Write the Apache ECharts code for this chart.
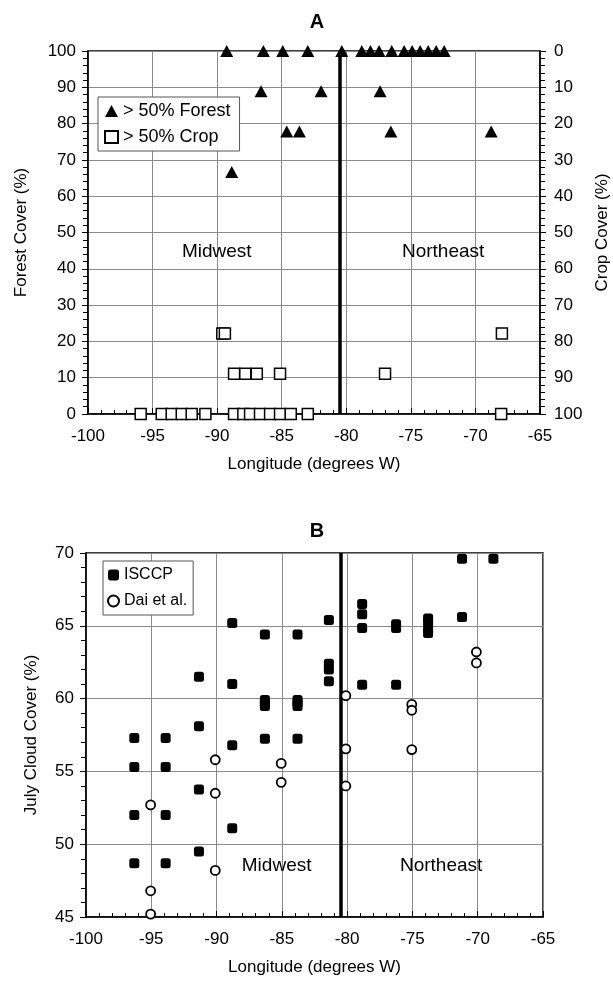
<!DOCTYPE html>
<html><head><meta charset="utf-8">
<script src="https://cdn.jsdelivr.net/npm/echarts@6/dist/echarts.min.js"></script>
<style>html,body{margin:0;padding:0;background:#fff}#c{width:613px;height:987px}</style>
</head><body><div id="c"></div>
<script>
// Panel A: > 50% forest sites (longitude, forest cover %)
const forestLon = [-89.26,-86.42,-84.92,-82.98,-80.35,-78.80,-78.13,-77.46,-76.48,-75.52,-74.90,-74.28,-73.66,-73.04,-72.42,
                   -86.6,-81.95,-77.38,
                   -84.61,-83.63,-76.55,-68.78,
                   -88.87];
const forestPct = [100,100,100,100,100,100,100,100,100,100,100,100,100,100,100,
                   88.9,88.9,88.9,
                   77.8,77.8,77.8,77.8,
                   66.7];
// Panel A: > 50% crop sites (longitude, crop cover %)
const cropLon = [-89.6,-89.4,-67.95,
                 -88.69,-87.82,-86.93,-85.13,-77.0,
                 -95.92,-94.29,-93.52,-92.74,-91.97,-90.91,-88.69,-87.97,-87.45,-86.68,-85.90,-85.13,-84.30,-82.98,-68.01];
const cropPct = [77.8,77.8,77.8,
                 88.9,88.9,88.9,88.9,88.9,
                 100,100,100,100,100,100,100,100,100,100,100,100,100,100,100];
// Panel B: July cloud cover
const isccpLon = [-96.3,-96.3,-96.3,-96.3, -93.9,-93.9,-93.9,-93.9, -91.35,-91.35,-91.35,-91.35, -88.8,-88.8,-88.8,-88.8,
                  -86.3,-86.3,-86.3,-86.3,-86.3, -83.8,-83.8,-83.8,-83.8,-83.8, -81.4,-81.4,-81.4,-81.4,
                  -78.85,-78.85,-78.85,-78.85, -76.25,-76.25,-76.25, -73.8,-73.8,-73.8,-73.8, -71.2,-71.2, -68.8];
const isccpCloud = [57.3,55.3,52.0,48.7, 57.3,55.3,52.0,48.7, 61.5,58.1,53.75,49.5, 65.2,61.0,56.8,51.1,
                    64.4,59.9,59.7,59.5,57.25, 64.4,59.9,59.7,59.5,57.25, 65.4,62.4,62.0,61.2,
                    66.5,65.8,64.85,60.95, 65.1,64.85,60.95, 65.5,65.2,64.8,64.5, 69.6,65.6, 69.6];
const daiLon = [-95.05,-95.05,-95.05, -90.1,-90.1,-90.1, -85.05,-85.05, -80.1,-80.1,-80.1, -75.05,-75.05,-75.05, -70.1,-70.1];
const daiCloud = [52.7,46.8,45.2, 55.8,53.5,48.2, 55.55,54.25, 60.2,56.55,54.0, 59.6,59.2,56.5, 63.2,62.45];
// Region boundary longitude
const boundaryLon = -80.5;
const regionNames = ['Midwest','Northeast'];

const FONT = '"Liberation Sans", Arial, Helvetica, sans-serif';
const zip = (a,b)=>a.map((x,i)=>[x,b[i]]);
const black = '#000';
const gridLine = {show:true, lineStyle:{color:'#8a8a8a', width:1}};

function xAx(gi){
  return {gridIndex:gi, type:'value', min:-100, max:-65, interval:5,
    axisLine:{show:true, onZero:false, lineStyle:{color:black, width:1.5}},
    axisTick:{show:true, inside:true, length:6, lineStyle:{color:black, width:1}},
    minorTick:{show:true, splitNumber:5, length:4, lineStyle:{color:black, width:1}},
    axisLabel:{fontSize:17, color:black, fontFamily:FONT, margin:14},
    splitLine:gridLine,
    name:'Longitude (degrees W)', nameLocation:'middle', nameGap:42,
    nameTextStyle:{fontSize:17, color:black, fontFamily:FONT}};
}
const regionLabel = {show:true, position:'inside', formatter:p=>p.data[2], fontSize:19, color:'#000', opacity:1, fontFamily:FONT, textBorderWidth:0};

const option = {
  animation:false,
  backgroundColor:'#fff',
  textStyle:{fontFamily:FONT},
  title:[
    {text:'A', left:312, top:7, textAlign:'center', textStyle:{fontSize:20, fontWeight:'bold', color:black, fontFamily:FONT}},
    {text:'B', left:312, top:516, textAlign:'center', textStyle:{fontSize:20, fontWeight:'bold', color:black, fontFamily:FONT}}
  ],
  grid:[
    {left:88, right:73, top:51, height:363, show:true, borderColor:black, borderWidth:1.5, backgroundColor:'transparent', outerBoundsMode:'none'},
    {left:86, right:70, top:553, height:364, show:true, borderColor:black, borderWidth:1.5, backgroundColor:'transparent', outerBoundsMode:'none'}
  ],
  legend:[
    {data:['> 50% Forest','> 50% Crop'], orient:'vertical', left:98, top:97,
     padding:[5,9,5,6], itemGap:8, itemWidth:13, itemHeight:12,
     borderColor:'#555', borderWidth:1, backgroundColor:'#fff',
     textStyle:{fontSize:18, color:black, fontFamily:FONT}},
    {data:['ISCCP','Dai et al.'], orient:'vertical', left:103, top:561,
     padding:[6,6,6,4], itemGap:10, itemWidth:11, itemHeight:11,
     borderColor:'#555', borderWidth:1, backgroundColor:'#fff',
     textStyle:{fontSize:16, color:black, fontFamily:FONT}}
  ],
  xAxis:[xAx(0), xAx(1)],
  yAxis:[
    {gridIndex:0, type:'value', min:0, max:100, interval:10, position:'left',
     axisLine:{show:true, lineStyle:{color:black, width:1.5}},
     axisTick:{show:true, length:6, lineStyle:{color:black}},
     minorTick:{show:true, splitNumber:5, length:5, lineStyle:{color:black}},
     axisLabel:{fontSize:17, color:black, fontFamily:FONT, margin:12},
     splitLine:gridLine,
     name:'Forest Cover (%)', nameLocation:'middle', nameGap:58, nameRotate:90,
     nameTextStyle:{fontSize:17, color:black, fontFamily:FONT}},
    {gridIndex:0, type:'value', min:0, max:100, interval:10, position:'right', inverse:true,
     axisLine:{show:true, lineStyle:{color:black, width:1.5}},
     axisTick:{show:true, length:6, lineStyle:{color:black}},
     minorTick:{show:true, splitNumber:5, length:5, lineStyle:{color:black}},
     axisLabel:{fontSize:17, color:black, fontFamily:FONT, margin:14},
     splitLine:{show:false},
     name:'Crop Cover (%)', nameLocation:'middle', nameGap:54, nameRotate:90,
     nameTextStyle:{fontSize:17, color:black, fontFamily:FONT}},
    {gridIndex:1, type:'value', min:45, max:70, interval:5, position:'left',
     axisLine:{show:true, lineStyle:{color:black, width:1.5}},
     axisTick:{show:true, length:6, lineStyle:{color:black}},
     minorTick:{show:true, splitNumber:5, length:5, lineStyle:{color:black}},
     axisLabel:{fontSize:17, color:black, fontFamily:FONT, margin:12},
     splitLine:gridLine,
     name:'July Cloud Cover (%)', nameLocation:'middle', nameGap:46, nameRotate:90,
     nameTextStyle:{fontSize:17, color:black, fontFamily:FONT}}
  ],
  series:[
    {name:'> 50% Forest', type:'scatter', xAxisIndex:0, yAxisIndex:0, symbol:'triangle', symbolSize:[13,12],
     itemStyle:{color:black, opacity:1}, data:zip(forestLon, forestPct), z:5,
     markLine:{silent:true, symbol:['none','none'], label:{show:false},
       lineStyle:{color:black, width:3.5, type:'solid', opacity:1}, data:[{xAxis:boundaryLon}]}},
    {name:'> 50% Crop', type:'scatter', xAxisIndex:0, yAxisIndex:1, symbol:'rect', symbolSize:11,
     itemStyle:{color:'#fff', borderColor:black, borderWidth:1.5, opacity:1}, data:zip(cropLon, cropPct), z:4},
    {name:'regionA', type:'scatter', xAxisIndex:0, yAxisIndex:0, symbolSize:1, silent:true,
     itemStyle:{color:'rgba(0,0,0,0)', opacity:1}, label:regionLabel,
     data:[[-90.03,44.7,regionNames[0]],[-72.5,44.7,regionNames[1]]]},
    {name:'ISCCP', type:'scatter', xAxisIndex:1, yAxisIndex:2, symbol:'roundRect', symbolSize:10,
     itemStyle:{color:black, opacity:1}, data:zip(isccpLon, isccpCloud), z:4,
     markLine:{silent:true, symbol:['none','none'], label:{show:false},
       lineStyle:{color:black, width:3.5, type:'solid', opacity:1}, data:[{xAxis:boundaryLon}]}},
    {name:'Dai et al.', type:'scatter', xAxisIndex:1, yAxisIndex:2, symbol:'circle', symbolSize:9,
     itemStyle:{color:'#fff', borderColor:black, borderWidth:1.8, opacity:1}, data:zip(daiLon, daiCloud), z:5},
    {name:'regionB', type:'scatter', xAxisIndex:1, yAxisIndex:2, symbolSize:1, silent:true,
     itemStyle:{color:'rgba(0,0,0,0)', opacity:1}, label:regionLabel,
     data:[[-85.4,48.5,regionNames[0]],[-72.8,48.5,regionNames[1]]]}
  ]
};
const chart = echarts.init(document.getElementById('c'), null, {renderer:'canvas'});
chart.setOption(option);
</script>
</body></html>
